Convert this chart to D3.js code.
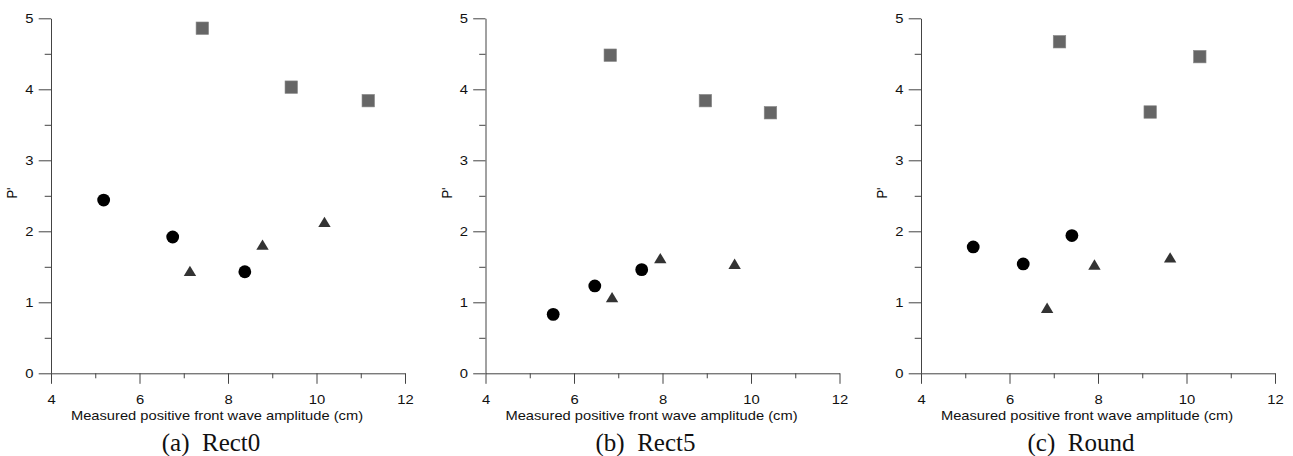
<!DOCTYPE html>
<html>
<head>
<meta charset="utf-8">
<script src="https://cdn.jsdelivr.net/npm/d3@7"></script>
<style>
  html, body { margin: 0; padding: 0; background: #fff; }
  svg { display: block; }
</style>
</head>
<body>
<svg id="chart" width="1293" height="456"></svg>
<script>
// ---------- data ----------
const panelCaptions = ["(a)  Rect0", "(b)  Rect5", "(c)  Round"];
const xTitle = "Measured positive front wave amplitude (cm)";
const yTitle = "P'";
const xMajorTicks = [4, 6, 8, 10, 12];
const xMinorTicks = [5, 7, 9, 11];
const yMajorTicks = [0, 1, 2, 3, 4, 5];
const yMinorTicks = [0.5, 1.5, 2.5, 3.5, 4.5];

// Rect0
const rect0SquaresX = [7.42, 9.43, 11.17];
const rect0SquaresY = [4.86, 4.03, 3.84];
const rect0CirclesX = [5.19, 6.75, 8.38];
const rect0CirclesY = [2.44, 1.92, 1.43];
const rect0TrianglesX = [7.14, 8.78, 10.18];
const rect0TrianglesY = [1.44, 1.81, 2.13];
// Rect5
const rect5SquaresX = [6.82, 8.97, 10.44];
const rect5SquaresY = [4.48, 3.84, 3.67];
const rect5CirclesX = [5.53, 6.47, 7.53];
const rect5CirclesY = [0.83, 1.23, 1.46];
const rect5TrianglesX = [6.86, 7.95, 9.63];
const rect5TrianglesY = [1.07, 1.62, 1.54];
// Round
const roundSquaresX = [7.13, 9.18, 10.30];
const roundSquaresY = [4.67, 3.68, 4.46];
const roundCirclesX = [5.18, 6.31, 7.41];
const roundCirclesY = [1.78, 1.54, 1.94];
const roundTrianglesX = [6.85, 7.92, 9.63];
const roundTrianglesY = [0.92, 1.53, 1.63];

const zip = (xs, ys) => xs.map((x, i) => [x, ys[i]]);
const panels = [
  { squares: zip(rect0SquaresX, rect0SquaresY), circles: zip(rect0CirclesX, rect0CirclesY), triangles: zip(rect0TrianglesX, rect0TrianglesY) },
  { squares: zip(rect5SquaresX, rect5SquaresY), circles: zip(rect5CirclesX, rect5CirclesY), triangles: zip(rect5TrianglesX, rect5TrianglesY) },
  { squares: zip(roundSquaresX, roundSquaresY), circles: zip(roundCirclesX, roundCirclesY), triangles: zip(roundTrianglesX, roundTrianglesY) }
];

// ---------- layout ----------
const svg = d3.select("#chart");
const panelLeft = [51, 485.5, 921];
const plotW = 354;
const yTop = 18.3, yBottom = 373.3;
const sansFont = "'Liberation Sans', Arial, sans-serif";
const serifFont = "'Liberation Serif', 'Times New Roman', serif";
const axisColor = "#444";
const stretch = 1.14;

panels.forEach((p, i) => {
  const left = panelLeft[i];
  const x = d3.scaleLinear().domain([4, 12]).range([left, left + plotW]);
  const y = d3.scaleLinear().domain([0, 5]).range([yBottom, yTop]);
  const g = svg.append("g");

  // x axis major
  const gx = g.append("g").attr("transform", `translate(0,${yBottom})`)
    .call(d3.axisBottom(x).tickValues(xMajorTicks).tickSize(10.5).tickSizeOuter(0).tickFormat(d3.format("d")));
  gx.selectAll("text").attr("y", 21.5).attr("dy", "0.71em")
    .attr("transform", `scale(${stretch},1)`);
  // x axis minor
  g.append("g").attr("transform", `translate(0,${yBottom})`)
    .call(d3.axisBottom(x).tickValues(xMinorTicks).tickSize(5).tickSizeOuter(0).tickFormat(""))
    .select(".domain").remove();

  // y axis major
  const gy = g.append("g").attr("transform", `translate(${left},0)`)
    .call(d3.axisLeft(y).tickValues(yMajorTicks).tickSize(12.3).tickSizeOuter(0).tickFormat(d3.format("d")));
  gy.selectAll("text").attr("x", -15.3).attr("dy", "0.35em")
    .attr("transform", `scale(${stretch},1)`);
  // y axis minor
  g.append("g").attr("transform", `translate(${left},0)`)
    .call(d3.axisLeft(y).tickValues(yMinorTicks).tickSize(6.3).tickSizeOuter(0).tickFormat(""))
    .select(".domain").remove();

  g.selectAll(".domain, .tick line").attr("stroke", axisColor).attr("stroke-width", 1);
  g.selectAll(".tick text").attr("fill", "#111").style("font-family", sansFont).style("font-size", "13px");

  // axis titles
  g.append("text")
    .attr("transform", `translate(${left + 166},419.5) scale(1.13,1)`)
    .attr("text-anchor", "middle")
    .style("font-family", sansFont).style("font-size", "13px").attr("fill", "#111")
    .text(xTitle);
  g.append("text")
    .attr("transform", `translate(${left - 34},193) scale(${stretch},1) rotate(-90)`)
    .attr("text-anchor", "middle")
    .style("font-family", sansFont).style("font-size", "13px").attr("fill", "#111")
    .text(yTitle);

  // caption
  g.append("text")
    .attr("x", left + 160).attr("y", 451)
    .attr("text-anchor", "middle")
    .style("white-space", "pre")
    .style("font-family", serifFont).style("font-size", "25px").attr("fill", "#111")
    .text(panelCaptions[i]);

  // markers
  const sq = 12.5;
  g.selectAll(".sq").data(p.squares).enter().append("rect")
    .attr("x", d => x(d[0]) - sq / 2).attr("y", d => y(d[1]) - sq / 2)
    .attr("width", sq).attr("height", sq)
    .attr("fill", "#666").attr("stroke", "#8a8a8a").attr("stroke-width", 0.6);
  g.selectAll(".ci").data(p.circles).enter().append("circle")
    .attr("cx", d => x(d[0])).attr("cy", d => y(d[1])).attr("r", 6.4)
    .attr("fill", "#000");
  g.selectAll(".tr").data(p.triangles).enter().append("path")
    .attr("transform", d => `translate(${x(d[0])},${y(d[1])})`)
    .attr("d", "M0,-5.4L6.2,5L-6.2,5Z")
    .attr("fill", "#333");
});
</script>
</body>
</html>
